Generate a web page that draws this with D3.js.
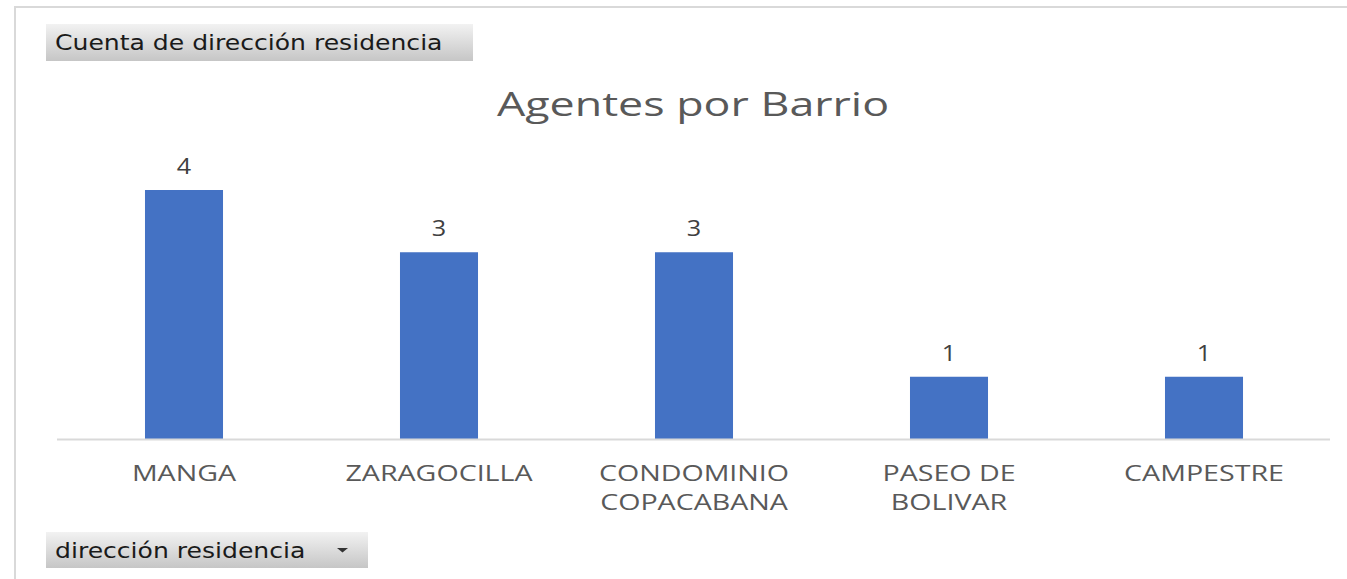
<!DOCTYPE html>
<html lang="es">
<head>
<meta charset="utf-8">
<script src="https://d3js.org/d3.v7.min.js"></script>
<style>
  body { margin: 0; background: #fff; }
  svg { display: block; }
</style>
</head>
<body>
<svg id="chart" width="1347" height="579"></svg>
<script>
// datos del grafico
var barrios = ["MANGA", "ZARAGOCILLA", "CONDOMINIO COPACABANA", "PASEO DE BOLIVAR", "CAMPESTRE"];
var etiquetas = [["MANGA"], ["ZARAGOCILLA"], ["CONDOMINIO", "COPACABANA"], ["PASEO DE", "BOLIVAR"], ["CAMPESTRE"]];
var cuenta = [4, 3, 3, 1, 1];
var titulo = "Agentes por Barrio";
var campoValor = "Cuenta de dirección residencia";
var campoEje = "dirección residencia";

var svg = d3.select("#chart");
var width = 1347, height = 579;

var data = barrios.map(function (b, i) {
  return { barrio: b, lineas: etiquetas[i], valor: cuenta[i] };
});

// marco del area del grafico
svg.append("line").attr("x1", 15).attr("x2", width).attr("y1", 7).attr("y2", 7)
  .style("stroke", "#d9d9d9").style("stroke-width", 2);
svg.append("line").attr("x1", 15).attr("x2", 15).attr("y1", 6).attr("y2", height)
  .style("stroke", "#d9d9d9").style("stroke-width", 2);

// gradiente de los botones
var defs = svg.append("defs");
var grad = defs.append("linearGradient").attr("id", "btn").attr("x1", 0).attr("y1", 0).attr("x2", 0).attr("y2", 1);
grad.append("stop").attr("offset", "0%").attr("stop-color", "#f2f2f2");
grad.append("stop").attr("offset", "100%").attr("stop-color", "#c6c6c6");

function boton(x, y, w, h, texto, flecha) {
  var g = svg.append("g").attr("transform", "translate(" + x + "," + y + ")");
  g.append("rect").attr("width", w).attr("height", h).style("fill", "url(#btn)");
  g.append("text").attr("transform", "translate(9,26) scale(1.14,1)")
    .style("font-family", "DejaVu Sans, sans-serif").style("font-size", "22px")
    .style("fill", "#1a1a1a").text(texto);
  if (flecha) {
    g.append("path").attr("d", "M" + (w - 31) + "," + (h / 2 - 2) + "h11l-5.5,4.5z").style("fill", "#333");
  }
}
boton(46, 24, 427, 37, campoValor, false);
boton(46, 532, 322, 36, campoEje, true);

// escalas
var x = d3.scaleBand().domain(barrios).range([56.5, 1331.5]).paddingInner(0.694).paddingOuter(0.347);
var y = d3.scaleLinear().domain([0, 4]).range([439, 190]);

// titulo
svg.append("text").attr("transform", "translate(693,116) scale(1.4,1)").attr("text-anchor", "middle")
  .style("font-family", "Open Sans, sans-serif").style("font-size", "32px")
  .style("fill", "#595959").text(titulo);

// barras
svg.selectAll("rect.bar").data(data).enter().append("rect").attr("class", "bar")
  .attr("x", function (d) { return x(d.barrio); })
  .attr("y", function (d) { return y(d.valor); })
  .attr("width", x.bandwidth())
  .attr("height", function (d) { return y(0) - y(d.valor); })
  .style("fill", "#4472c4");

// etiquetas de valor
svg.selectAll("text.val").data(data).enter().append("text").attr("class", "val")
  .attr("transform", function (d) {
    return "translate(" + (x(d.barrio) + x.bandwidth() / 2) + "," + (y(d.valor) - 16) + ") scale(1.2,1)";
  })
  .attr("text-anchor", "middle")
  .style("font-family", "Open Sans, sans-serif").style("font-size", "21px")
  .style("fill", "#404040").text(function (d) { return d.valor; });

// eje x
var eje = svg.append("g").attr("transform", "translate(0," + y(0) + ")")
  .call(d3.axisBottom(x).tickSize(0).tickFormat(""));
eje.select(".domain").attr("d", "M57,0.5H1330").style("stroke", "#d9d9d9").style("stroke-width", 2);

// etiquetas de categoria, una linea por texto
svg.selectAll("g.cat").data(data).enter().append("g").attr("class", "cat")
  .each(function (d) {
    var cx = x(d.barrio) + x.bandwidth() / 2;
    d3.select(this).selectAll("text").data(d.lineas).enter().append("text")
      .attr("transform", function (t, i) { return "translate(" + cx + "," + (481 + i * 29) + ") scale(1.3,1)"; })
      .attr("text-anchor", "middle")
      .style("font-family", "Open Sans, sans-serif").style("font-size", "22px")
      .style("fill", "#595959").text(function (t) { return t; });
  });
</script>
</body>
</html>
